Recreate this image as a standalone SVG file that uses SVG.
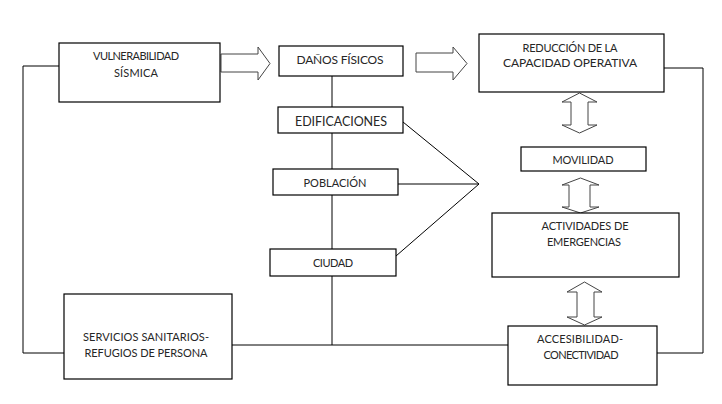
<svg xmlns="http://www.w3.org/2000/svg" width="722" height="404" viewBox="0 0 722 404">
<style>
.box{fill:#fff;stroke:#000;stroke-width:1.2}
.ln{fill:none;stroke:#000;stroke-width:1}
.ar{fill:#fff;stroke:#444;stroke-width:1}
text{font-family:Lato,"Liberation Sans",sans-serif;font-size:11px;fill:#262626;text-anchor:middle}
</style>
<rect width="722" height="404" fill="#fff"/>
<g id="connectors">
<polyline class="ln" points="332,76 332,345"/>
<polyline class="ln" points="232,345 508,345"/>
<polyline class="ln" points="403,122 479,184"/>
<polyline class="ln" points="398,184 479,184"/>
<polyline class="ln" points="396,256 479,184"/>
<polyline class="ln" points="59,66 23,66 23,353 64,353"/>
<polyline class="ln" points="646,353 703,353 703,68 664,68"/>
<polygon class="ar" points="221,54 258,54 258,47 270,63.5 258,80 258,72 221,72"/>
<polygon class="ar" points="416,53 453,53 453,47 467,63.5 453,80 453,72 416,72"/>
<polygon class="ar" points="579.5,93 597,102 588,102 588,125 597,125 579.5,133 562,125 571,125 571,102 562,102"/>
<polygon class="ar" points="580.5,178 599,185 590,185 590,207 599,207 580.5,213 562,207 569,207 569,185 562,185"/>
<polygon class="ar" points="584.5,282 602,292 594,292 594,317 602,317 584.5,325 567,317 577,317 577,292 567,292"/>
</g>
<g id="vulnerabilidad">
<rect class="box" x="59" y="43" width="161" height="59"/>
<text x="136" y="60" textLength="86" lengthAdjust="spacing">VULNERABILIDAD</text>
<text x="136" y="77" textLength="44" lengthAdjust="spacing">SÍSMICA</text>
</g>
<g id="danos">
<rect class="box" x="279" y="46" width="124" height="30"/>
<text x="340" y="64" style="font-size:12px" textLength="87" lengthAdjust="spacing">DAÑOS FÍSICOS</text>
</g>
<g id="edificaciones">
<rect class="box" x="278" y="107" width="125" height="26"/>
<text x="341" y="126" style="font-size:12.5px" textLength="92" lengthAdjust="spacing">EDIFICACIONES</text>
</g>
<g id="poblacion">
<rect class="box" x="273" y="169" width="125" height="26"/>
<text x="335" y="187" textLength="63" lengthAdjust="spacing">POBLACIÓN</text>
</g>
<g id="ciudad">
<rect class="box" x="270" y="249" width="126" height="27"/>
<text x="333" y="267" textLength="40" lengthAdjust="spacing">CIUDAD</text>
</g>
<g id="reduccion">
<rect class="box" x="479" y="34" width="185" height="58"/>
<text x="570" y="52" textLength="95" lengthAdjust="spacing">REDUCCIÓN DE LA</text>
<text x="570" y="67" style="font-size:12px" textLength="134" lengthAdjust="spacing">CAPACIDAD OPERATIVA</text>
</g>
<g id="movilidad">
<rect class="box" x="521" y="147" width="125" height="24"/>
<text x="583" y="164" textLength="61" lengthAdjust="spacing">MOVILIDAD</text>
</g>
<g id="actividades">
<rect class="box" x="492" y="213" width="187" height="64"/>
<text x="585" y="230" textLength="87" lengthAdjust="spacing">ACTIVIDADES DE</text>
<text x="584" y="246" textLength="74" lengthAdjust="spacing">EMERGENCIAS</text>
</g>
<g id="accesibilidad">
<rect class="box" x="508" y="326" width="149" height="59"/>
<text x="580" y="343" textLength="86" lengthAdjust="spacing">ACCESIBILIDAD-</text>
<text x="581" y="359" textLength="75" lengthAdjust="spacing">CONECTIVIDAD</text>
</g>
<g id="servicios">
<rect class="box" x="64" y="294" width="168" height="85"/>
<text x="146" y="341" textLength="126" lengthAdjust="spacing">SERVICIOS SANITARIOS-</text>
<text x="146" y="357" textLength="123" lengthAdjust="spacing">REFUGIOS DE PERSONA</text>
</g>
</svg>
